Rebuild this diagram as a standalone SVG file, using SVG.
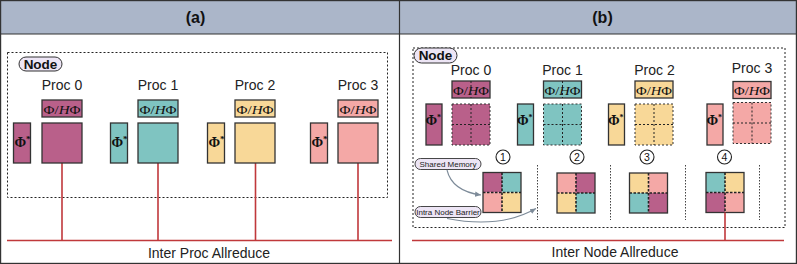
<svg xmlns="http://www.w3.org/2000/svg" width="797" height="264" viewBox="0 0 797 264">
<style>
.hdr{fill:#abb6c9;stroke:none}
.frame{fill:none;stroke:#333;stroke-width:1.2}
.ttl{font-family:"Liberation Sans",Arial,sans-serif;font-weight:bold;font-size:16px;fill:#111;text-anchor:middle}
.nodebox{fill:none;stroke:#222;stroke-width:1;stroke-dasharray:2 2}
.pill{fill:#ede5f5;stroke:#333;stroke-width:1}
.pilltxt{font-family:"Liberation Sans",Arial,sans-serif;font-weight:bold;font-size:13.5px;fill:#111;text-anchor:middle}
.proc{font-family:"Liberation Sans",Arial,sans-serif;font-size:14px;fill:#222;text-anchor:middle}
.math{font-family:"Liberation Serif","Times New Roman",serif;font-size:13px;fill:#111}
.phi{font-family:"Liberation Serif","Times New Roman",serif;font-size:14px;font-weight:bold;fill:#111}
.box{stroke:#333;stroke-width:1.3}
.dbox{stroke:#333;stroke-width:1;stroke-dasharray:2 2}
.dl{stroke:#222;stroke-width:1;stroke-dasharray:2 2;fill:none}
.rl{stroke:#222;stroke-width:1.6;stroke-dasharray:2.5 1.5;fill:none}
.bar{stroke:#444;stroke-width:1;stroke-dasharray:1.5 1.5;fill:none}
.m{fill:#b9608a}
.t{fill:#7fc4c1}
.y{fill:#f8d898}
.p{fill:#f4a8a6}
.red{stroke:#c0383b;stroke-width:1.6;fill:none}
.lbl{font-family:"Liberation Sans",Arial,sans-serif;font-size:14px;fill:#222;text-anchor:middle}
.sp{fill:#ede5f5;stroke:#333;stroke-width:0.9}
.sptxt{font-family:"Liberation Sans",Arial,sans-serif;font-size:8px;fill:#222;text-anchor:middle}
.arr{stroke:#7d8b99;stroke-width:1.1;fill:none;marker-end:url(#ah)}
.num{font-family:"Liberation Sans",Arial,sans-serif;font-size:10.5px;fill:#111;text-anchor:middle}
.numc{fill:#fff;stroke:#222;stroke-width:1.1}
</style>
<defs>
<marker id="ah" viewBox="0 0 10 10" refX="9" refY="5" markerWidth="6" markerHeight="6" orient="auto">
<path d="M0,1 L9,5 L0,9 z" fill="#7d8b99"/>
</marker>
</defs>

<!-- frame and headers -->
<g id="frame">
<rect class="hdr" x="0" y="0" width="797" height="34"/>
<rect class="frame" x="0.6" y="0.6" width="795.8" height="262.8"/>
<line class="frame" x1="0" y1="34" x2="797" y2="34"/>
<line class="frame" x1="399.5" y1="0" x2="399.5" y2="264"/>
<text class="ttl" x="195.5" y="23">(a)</text>
<text class="ttl" x="602.5" y="23">(b)</text>
</g>

<!-- ===== Panel (a) ===== -->
<g id="a-node">
<rect class="nodebox" x="7.5" y="52.5" width="380" height="145"/>
<rect class="pill" x="19" y="57" width="43" height="14" rx="7"/>
<text class="pilltxt" x="40.5" y="68.5">Node</text>
</g>

<g id="a-connectors">
<line class="red" x1="7" y1="240.5" x2="392" y2="240.5"/>
<line class="red" x1="62" y1="163" x2="62" y2="240.5"/>
<line class="red" x1="158" y1="163" x2="158" y2="240.5"/>
<line class="red" x1="255.5" y1="163" x2="255.5" y2="240.5"/>
<line class="red" x1="358" y1="163" x2="358" y2="240.5"/>
<text class="lbl" x="209" y="258">Inter Proc Allreduce</text>
</g>

<g id="a-proc0">
<text class="proc" x="62" y="90">Proc 0</text>
<rect class="box m" x="42" y="100" width="40" height="17"/>
<text class="math" x="43.5" y="113.5" textLength="37" lengthAdjust="spacingAndGlyphs">Φ/<tspan font-style="italic">H</tspan>Φ</text>
<rect class="box m" x="13.5" y="123" width="17" height="40"/>
<text class="phi" x="14.5" y="147">Φ<tspan font-size="9" dy="-5">*</tspan></text>
<rect class="box m" x="42" y="123" width="40" height="40"/>
</g>

<g id="a-proc1">
<text class="proc" x="158" y="90">Proc 1</text>
<rect class="box t" x="138" y="100" width="40" height="17"/>
<text class="math" x="139.5" y="113.5" textLength="37" lengthAdjust="spacingAndGlyphs">Φ/<tspan font-style="italic">H</tspan>Φ</text>
<rect class="box t" x="110.5" y="123" width="17" height="40"/>
<text class="phi" x="111.5" y="147">Φ<tspan font-size="9" dy="-5">*</tspan></text>
<rect class="box t" x="138" y="123" width="40" height="40"/>
</g>

<g id="a-proc2">
<text class="proc" x="255" y="90">Proc 2</text>
<rect class="box y" x="235" y="100" width="40" height="17"/>
<text class="math" x="236.5" y="113.5" textLength="37" lengthAdjust="spacingAndGlyphs">Φ/<tspan font-style="italic">H</tspan>Φ</text>
<rect class="box y" x="207.5" y="123" width="17" height="40"/>
<text class="phi" x="208.5" y="147">Φ<tspan font-size="9" dy="-5">*</tspan></text>
<rect class="box y" x="235" y="123" width="40" height="40"/>
</g>

<g id="a-proc3">
<text class="proc" x="358" y="90">Proc 3</text>
<rect class="box p" x="338" y="100" width="40" height="17"/>
<text class="math" x="339.5" y="113.5" textLength="37" lengthAdjust="spacingAndGlyphs">Φ/<tspan font-style="italic">H</tspan>Φ</text>
<rect class="box p" x="310.5" y="123" width="17" height="40"/>
<text class="phi" x="311.5" y="147">Φ<tspan font-size="9" dy="-5">*</tspan></text>
<rect class="box p" x="338" y="123" width="40" height="40"/>
</g>

<!-- ===== Panel (b) ===== -->
<g id="b-node">
<rect class="nodebox" x="413" y="48" width="372" height="179.5"/>
<rect class="pill" x="414" y="48" width="43" height="15" rx="7.5"/>
<text class="pilltxt" x="435.5" y="60">Node</text>
</g>

<g id="b-proc0">
<text class="proc" x="471" y="75">Proc 0</text>
<rect class="box m" x="452" y="81" width="38" height="17"/>
<text class="math" x="453" y="94.5" textLength="36" lengthAdjust="spacingAndGlyphs">Φ/<tspan font-style="italic">H</tspan>Φ</text>
<line class="dl" x1="471" y1="81" x2="471" y2="98"/>
<rect class="box m" x="426" y="104" width="16" height="41"/>
<text class="phi" x="425.5" y="125" font-size="13">Φ<tspan font-size="8" dy="-5">*</tspan></text>
<rect class="dbox m" x="452" y="104" width="38" height="41"/>
<line class="dl" x1="471" y1="104" x2="471" y2="145"/>
<line class="dl" x1="452" y1="124.5" x2="490" y2="124.5"/>
</g>

<g id="b-proc1">
<text class="proc" x="562.5" y="75">Proc 1</text>
<rect class="box t" x="543.5" y="81" width="38" height="17"/>
<text class="math" x="544.5" y="94.5" textLength="36" lengthAdjust="spacingAndGlyphs">Φ/<tspan font-style="italic">H</tspan>Φ</text>
<line class="dl" x1="562.5" y1="81" x2="562.5" y2="98"/>
<rect class="box t" x="517.5" y="104" width="16" height="41"/>
<text class="phi" x="517" y="125" font-size="13">Φ<tspan font-size="8" dy="-5">*</tspan></text>
<rect class="dbox t" x="543.5" y="104" width="38" height="41"/>
<line class="dl" x1="562.5" y1="104" x2="562.5" y2="145"/>
<line class="dl" x1="543.5" y1="124.5" x2="581.5" y2="124.5"/>
</g>

<g id="b-proc2">
<text class="proc" x="654.5" y="75">Proc 2</text>
<rect class="box y" x="635" y="81" width="38" height="17"/>
<text class="math" x="636" y="94.5" textLength="36" lengthAdjust="spacingAndGlyphs">Φ/<tspan font-style="italic">H</tspan>Φ</text>
<rect class="box y" x="608.5" y="104" width="16" height="41"/>
<text class="phi" x="608" y="125" font-size="13">Φ<tspan font-size="8" dy="-5">*</tspan></text>
<rect class="dbox y" x="635" y="104" width="38" height="41"/>
<line class="dl" x1="654" y1="104" x2="654" y2="145"/>
<line class="dl" x1="635" y1="124.5" x2="673" y2="124.5"/>
</g>

<g id="b-proc3">
<text class="proc" x="752" y="73">Proc 3</text>
<rect class="box p" x="733" y="81.5" width="38" height="17"/>
<text class="math" x="734" y="95" textLength="36" lengthAdjust="spacingAndGlyphs">Φ/<tspan font-style="italic">H</tspan>Φ</text>
<rect class="box p" x="707" y="104" width="16" height="41"/>
<text class="phi" x="706.5" y="125" font-size="13">Φ<tspan font-size="8" dy="-5">*</tspan></text>
<rect class="dbox p" x="733" y="102.5" width="38" height="41"/>
<line class="dl" x1="752" y1="102.5" x2="752" y2="143.5"/>
<line class="dl" x1="733" y1="123" x2="771" y2="123"/>
</g>

<g id="b-barriers">
<line class="bar" x1="537.5" y1="165" x2="537.5" y2="220"/>
<line class="bar" x1="610.5" y1="165" x2="610.5" y2="220"/>
<line class="bar" x1="685.5" y1="165" x2="685.5" y2="220"/>
<line class="bar" x1="759.5" y1="165" x2="759.5" y2="220"/>
</g>

<g id="b-step1">
<circle class="numc" cx="503" cy="157" r="7"/>
<text class="num" x="503" y="160.8">1</text>
<rect class="m" x="483" y="172.5" width="19" height="20"/>
<rect class="t" x="502" y="172.5" width="19" height="20"/>
<rect class="p" x="483" y="192.5" width="19" height="20"/>
<rect class="y" x="502" y="192.5" width="19" height="20"/>
<rect class="box" fill="none" x="483" y="172.5" width="38" height="40"/>
<line class="rl" x1="502" y1="172.5" x2="502" y2="212.5"/>
<line class="rl" x1="483" y1="192.5" x2="521" y2="192.5"/>
</g>

<g id="b-step2">
<circle class="numc" cx="577" cy="157" r="7"/>
<text class="num" x="577" y="160.8">2</text>
<rect class="p" x="557" y="173" width="19" height="20"/>
<rect class="m" x="576" y="173" width="19" height="20"/>
<rect class="y" x="557" y="193" width="19" height="20"/>
<rect class="t" x="576" y="193" width="19" height="20"/>
<rect class="box" fill="none" x="557" y="173" width="38" height="40"/>
<line class="rl" x1="576" y1="173" x2="576" y2="213"/>
<line class="rl" x1="557" y1="193" x2="595" y2="193"/>
</g>

<g id="b-step3">
<circle class="numc" cx="647" cy="157" r="7"/>
<text class="num" x="647" y="160.8">3</text>
<rect class="y" x="629.5" y="173" width="19" height="20"/>
<rect class="p" x="648.5" y="173" width="19" height="20"/>
<rect class="t" x="629.5" y="193" width="19" height="20"/>
<rect class="m" x="648.5" y="193" width="19" height="20"/>
<rect class="box" fill="none" x="629.5" y="173" width="38" height="40"/>
<line class="rl" x1="648.5" y1="173" x2="648.5" y2="213"/>
<line class="rl" x1="629.5" y1="193" x2="667.5" y2="193"/>
</g>

<g id="b-step4">
<circle class="numc" cx="724.5" cy="157" r="7"/>
<text class="num" x="724.5" y="160.8">4</text>
<rect class="t" x="706" y="172.5" width="19" height="20"/>
<rect class="y" x="725" y="172.5" width="19" height="20"/>
<rect class="m" x="706" y="192.5" width="19" height="20"/>
<rect class="p" x="725" y="192.5" width="19" height="20"/>
<rect class="box" fill="none" x="706" y="172.5" width="38" height="40"/>
<line class="rl" x1="725" y1="172.5" x2="725" y2="212.5"/>
<line class="rl" x1="706" y1="192.5" x2="744" y2="192.5"/>
</g>

<g id="b-shared-memory">
<rect class="sp" x="415" y="158.5" width="66" height="11" rx="5.5"/>
<text class="sptxt" x="448" y="166.8">Shared Memory</text>
</g>

<g id="b-intra-barrier">
<rect class="sp" x="415" y="206.5" width="66" height="11" rx="5.5"/>
<text class="sptxt" x="448" y="214.8">Intra Node Barrier</text>
</g>

<g id="b-connectors">
<path class="arr" d="M447,170 Q452,191 481,195"/>
<path class="arr" d="M447,218.5 Q500,229 536,208.5"/>
<line class="red" x1="412" y1="240.5" x2="784" y2="240.5"/>
<line class="red" x1="725" y1="212.5" x2="725" y2="240.5"/>
<text class="lbl" x="615" y="257">Inter Node Allreduce</text>
</g>
</svg>
